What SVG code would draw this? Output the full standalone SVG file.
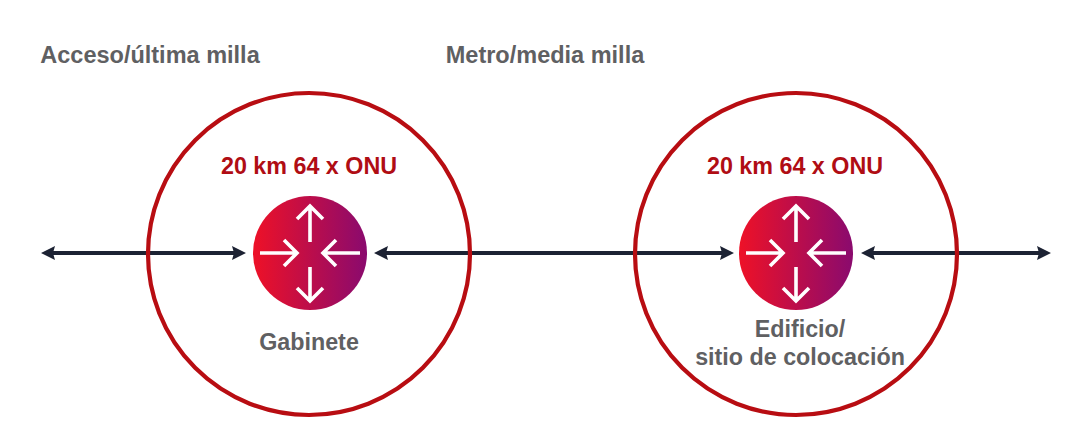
<svg xmlns="http://www.w3.org/2000/svg" width="1084" height="443" viewBox="0 0 1084 443">
<style>
text{font-family:"Liberation Sans",Arial,sans-serif;font-weight:700;text-anchor:middle}
.h{font-size:23.5px;fill:#5f6062}
.r{font-size:23.3px;fill:#b00d14}
.l{font-size:23.3px;fill:#5f6062}
.ring{fill:none;stroke:#b80d12;stroke-width:4.2}
.w{fill:none;stroke:#fff;stroke-width:3.6}
.c{fill:none;stroke:#1c2233;stroke-width:4;marker-start:url(#a);marker-end:url(#a)}
</style>
<defs>
<linearGradient id="g"><stop offset="0" stop-color="#ee1127"/><stop offset="1" stop-color="#8a0a6e"/></linearGradient>
<marker id="a" markerUnits="userSpaceOnUse" markerWidth="16" markerHeight="16" refX="2" refY="8" orient="auto-start-reverse"><path d="M0 1L14 8L0 15L2 8Z" fill="#1c2233"/></marker>
<g id="sym">
<circle r="57" fill="url(#g)"/>
<path class="w" d="M0-11V-47M-13-34L0-47L13-34M0 14V48M-13 35L0 48L13 35M-50 0H-13M-26-13L-13 0L-26 13M50 0H13M26-13L13 0L26 13"/>
</g>
</defs>
<rect width="1084" height="443" fill="#fff"/>
<text class="h" x="150" y="63">Acceso/última milla</text>
<text class="h" x="545" y="63">Metro/media milla</text>
<g id="connectors">
<path class="c" d="M53 253H234"/>
<path class="c" d="M386 253H722"/>
<path class="c" d="M873 253H1039"/>
</g>
<g id="cell1">
<circle class="ring" cx="309" cy="254" r="161"/>
<text class="r" x="309" y="174">20 km 64 x ONU</text>
<use href="#sym" x="310" y="253"/>
<text class="l" x="309" y="350">Gabinete</text>
</g>
<g id="cell2">
<circle class="ring" cx="796" cy="254" r="161"/>
<text class="r" x="795" y="174">20 km 64 x ONU</text>
<use href="#sym" x="796" y="253"/>
<text class="l" x="800" y="337">Edificio/</text>
<text class="l" x="800" y="365">sitio de colocación</text>
</g>
</svg>
